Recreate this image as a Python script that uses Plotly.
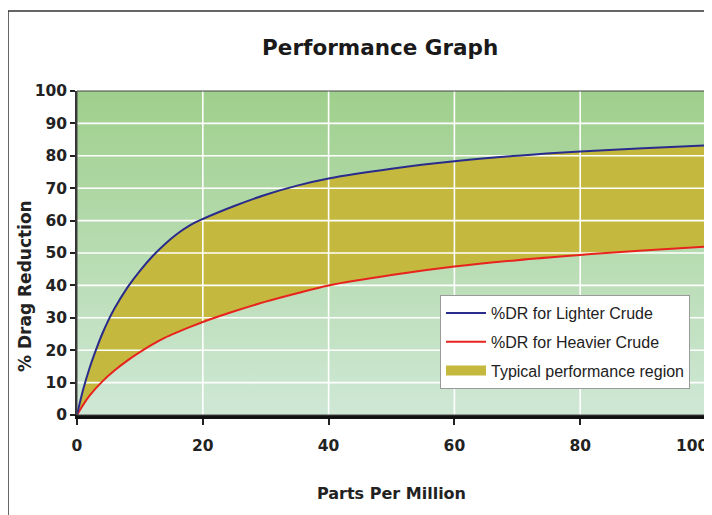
import plotly.graph_objects as go

# ---- data ----
ppm_light = [0, 1, 2, 3, 4, 5, 6, 8, 10, 12, 14, 16, 18, 20, 25, 30, 35, 40, 50, 60, 70, 80, 90, 100]
dr_light = [0, 8, 14.5, 20, 25, 29.3, 33, 39.3, 44.5, 49, 52.8, 56, 58.6, 60.5, 64.5, 68, 70.8, 73,
            76, 78.3, 80, 81.3, 82.3, 83.2]
ppm_heavy = [0, 1, 2, 4, 6, 8, 10, 12, 14, 16, 18, 20, 25, 30, 35, 40, 50, 60, 70, 80, 90, 100]
dr_heavy = [0, 3.2, 6.0, 10.3, 13.8, 16.8, 19.4, 21.8, 23.9, 25.6, 27.2, 28.7, 32, 35, 37.6, 40,
            43.2, 45.8, 47.8, 49.4, 50.8, 52]
x_ticks = [0, 20, 40, 60, 80, 100]
y_ticks = [0, 10, 20, 30, 40, 50, 60, 70, 80, 90, 100]

name_light = "%DR for Lighter Crude"
name_heavy = "%DR for Heavier Crude"
name_region = "Typical performance region"

BOLD = "DejaVu Sans"
FILL = "#c4b83e"
x_min, x_max = x_ticks[0], x_ticks[-1]
y_min, y_max = y_ticks[0], y_ticks[-1]

fig = go.Figure()

# gradient background of plot area
fig.add_trace(go.Scatter(
    x=[x_min, x_max, x_max, x_min, x_min], y=[y_min, y_min, y_max, y_max, y_min],
    mode="lines", line=dict(width=0), fill="toself",
    fillgradient=dict(type="vertical", colorscale=[[0, "#cfe8d6"], [1, "#9fcf8c"]]),
    hoverinfo="skip", showlegend=False))

# region between the curves
fig.add_trace(go.Scatter(
    x=ppm_heavy, y=dr_heavy, mode="lines", line=dict(width=0, shape="spline", smoothing=1),
    hoverinfo="skip", showlegend=False))
fig.add_trace(go.Scatter(
    x=ppm_light, y=dr_light, mode="lines", line=dict(width=0, shape="spline", smoothing=1),
    fill="tonexty", fillcolor=FILL, name=name_region, hoverinfo="skip",
    legendgroup="c", showlegend=False))
# legend swatch for the region (a wide block, like the reference)
fig.add_trace(go.Scatter(
    x=[None], y=[None], mode="lines", line=dict(color=FILL, width=13),
    name=name_region, legendgroup="c", legendrank=3))

# white grid drawn over the fill
gx, gy = [], []
for v in x_ticks[1:-1]:
    gx += [v, v, None]; gy += [y_min, y_max, None]
for v in y_ticks[1:-1]:
    gx += [x_min, x_max, None]; gy += [v, v, None]
fig.add_trace(go.Scatter(x=gx, y=gy, mode="lines", line=dict(color="white", width=1.6),
                         hoverinfo="skip", showlegend=False))

fig.add_trace(go.Scatter(
    x=ppm_heavy, y=dr_heavy, mode="lines", name=name_heavy,
    line=dict(color="#e8231e", width=2, shape="spline", smoothing=1),
    legendgroup="b", legendrank=2))
fig.add_trace(go.Scatter(
    x=ppm_light, y=dr_light, mode="lines", name=name_light,
    line=dict(color="#2a2c8c", width=2, shape="spline", smoothing=1),
    legendgroup="a", legendrank=1))

tickfont = dict(family=BOLD, size=15.5, color="#222222", weight="bold")
x_ticktext = [str(v) for v in x_ticks[:-1]] + [""]

fig.update_layout(
    width=712, height=515,
    margin=dict(l=69, r=14, t=83, b=108),
    paper_bgcolor="white", plot_bgcolor="white",
    title=dict(text="Performance Graph", x=0.482, xref="paper", xanchor="center",
               y=1 - 39 / 515, yanchor="middle",
               font=dict(family=BOLD, size=21.5, color="#1a1a1a", weight="bold")),
    xaxis=dict(range=[x_min, x_max], tickvals=x_ticks, ticktext=x_ticktext,
               showgrid=False, zeroline=False,
               showline=True, linecolor="#111111", linewidth=4, layer="above traces",
               ticks="outside", ticklen=6, tickwidth=1.5, tickcolor="#222222",
               tickfont=tickfont, ticklabelstandoff=7, automargin=False,
               title=dict(text="Parts Per Million", standoff=35,
                          font=dict(family=BOLD, size=16, color="#222222", weight="bold"))),
    yaxis=dict(range=[y_min, y_max], tickvals=y_ticks, showgrid=False, zeroline=False,
               showline=True, linecolor="#333333", linewidth=1.5, layer="above traces",
               ticks="outside", ticklen=5, tickwidth=1.5, tickcolor="#222222",
               tickfont=tickfont, automargin=False),
    annotations=[
        dict(text="% Drag Reduction", xref="paper", yref="paper",
             x=(25 - 77) / 629, y=(415 - 286) / 324, xanchor="center", yanchor="middle",
             textangle=-90, showarrow=False,
             font=dict(family=BOLD, size=17, color="#222222", weight="bold")),
        # last x tick label, kept inside the page like the reference
        dict(text=str(x_ticks[-1]), xref="x", yref="paper", x=x_ticks[-1], y=(415 - 446) / 324,
             xanchor="right", yanchor="middle", xshift=5, showarrow=False,
             font=tickfont),
    ],
    legend=dict(x=(440 - 77) / 629, y=(415 - 295) / 324, xanchor="left", yanchor="top",
                bgcolor="white", bordercolor="#9a9a9a", borderwidth=1,
                traceorder="grouped", tracegroupgap=5, itemwidth=40,
                font=dict(family="Liberation Sans, Arial", size=16, color="#222222")),
    shapes=[
        dict(type="rect", xref="paper", yref="paper", x0=0, x1=1, y0=0, y1=1,
             line=dict(color="#444444", width=1), layer="above"),
        dict(type="rect", xref="paper", yref="paper", x0=(8 - 77) / 629, x1=1.2,
             y0=-0.6, y1=(415 - 11) / 324,
             line=dict(color="#333333", width=1.5), layer="above"),
    ],
    showlegend=True,
)

fig.write_html("out.html")
